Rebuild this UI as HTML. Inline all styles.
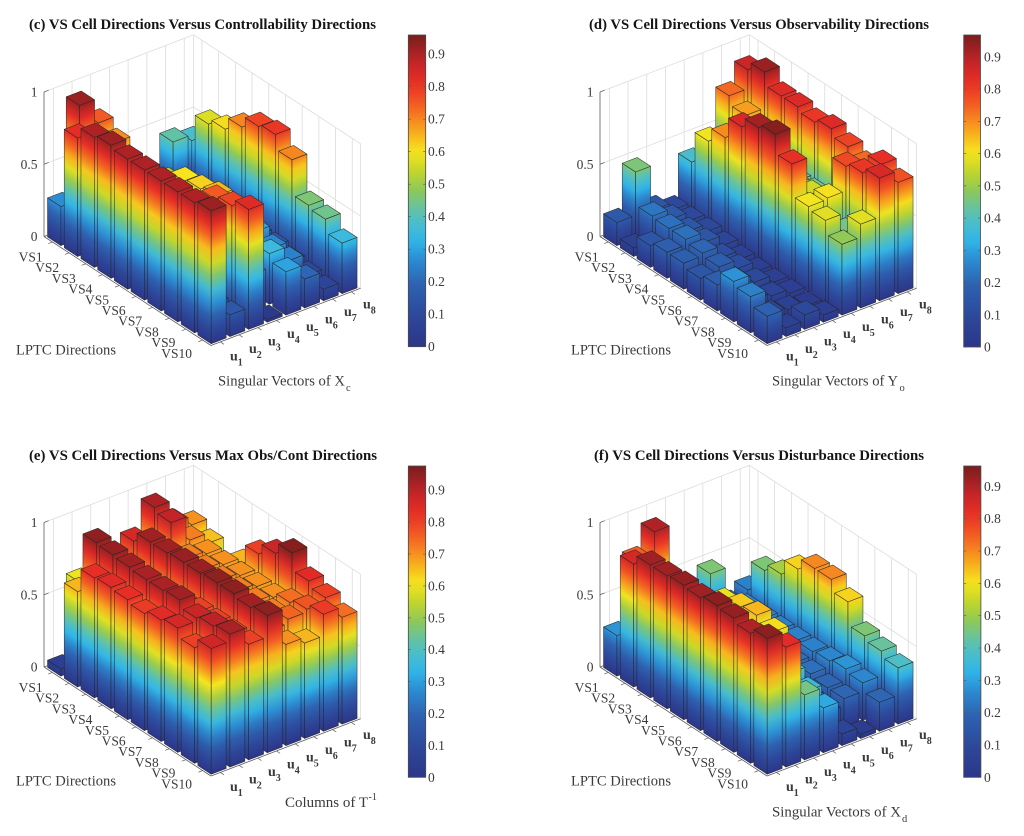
<!DOCTYPE html>
<html><head><meta charset="utf-8">
<style>
html,body{margin:0;padding:0;background:#fff;}
body{width:1024px;height:836px;overflow:hidden;}
svg{display:block;}
text{font-family:"Liberation Serif","Times New Roman",serif;}
.t{font-weight:bold;font-size:14.5px;fill:#151515;}
.al{font-size:14.5px;fill:#3a3a3a;}
.tk{font-size:13.5px;fill:#3a3a3a;}
.ul{font-size:14px;font-weight:bold;fill:#3a3a3a;}
</style></head>
<body>
<svg id="S" width="1024" height="836" viewBox="0 0 1024 836" xmlns="http://www.w3.org/2000/svg">
<defs id="D"></defs>
<rect x="0" y="0" width="1024" height="836" fill="#fff"/>
<g id="P0"></g><g id="P1"></g><g id="P2"></g><g id="P3"></g>

<!-- Titles -->
<text class="t" x="29" y="29" textLength="347" lengthAdjust="spacingAndGlyphs">(c) VS Cell Directions Versus Controllability Directions</text>
<text class="t" x="589" y="29" textLength="340" lengthAdjust="spacingAndGlyphs">(d) VS Cell Directions Versus Observability Directions</text>
<text class="t" x="29" y="460" textLength="348" lengthAdjust="spacingAndGlyphs">(e) VS Cell Directions Versus Max Obs/Cont Directions</text>
<text class="t" x="594" y="460" textLength="330" lengthAdjust="spacingAndGlyphs">(f) VS Cell Directions Versus Disturbance Directions</text>

<!-- Axis labels -->
<text class="al" x="16" y="354.5" textLength="100" lengthAdjust="spacingAndGlyphs">LPTC Directions</text>
<text class="al" x="571" y="354.5" textLength="100" lengthAdjust="spacingAndGlyphs">LPTC Directions</text>
<text class="al" x="16" y="785.5" textLength="100" lengthAdjust="spacingAndGlyphs">LPTC Directions</text>
<text class="al" x="571" y="785.5" textLength="100" lengthAdjust="spacingAndGlyphs">LPTC Directions</text>

<text class="al" x="218" y="385.5" textLength="127" lengthAdjust="spacingAndGlyphs">Singular Vectors of X</text>
<text class="al" x="346" y="391" style="font-size:10.5px">c</text>
<text class="al" x="772" y="385.5" textLength="126" lengthAdjust="spacingAndGlyphs">Singular Vectors of Y</text>
<text class="al" x="899.5" y="391" style="font-size:10.5px">o</text>
<text class="al" x="285" y="807" textLength="83" lengthAdjust="spacingAndGlyphs">Columns of T</text>
<text class="al" x="368.5" y="800" style="font-size:10px">-1</text>
<text class="al" x="772" y="816.5" textLength="129" lengthAdjust="spacingAndGlyphs">Singular Vectors of X</text>
<text class="al" x="902" y="822" style="font-size:10.5px">d</text>

<!-- Colorbar labels (c) -->
<g class="tk">
<text x="428" y="351.2">0</text><text x="428" y="318.7">0.1</text><text x="428" y="286.2">0.2</text><text x="428" y="253.7">0.3</text><text x="428" y="221.2">0.4</text><text x="428" y="188.7">0.5</text><text x="428" y="156.2">0.6</text><text x="428" y="123.7">0.7</text><text x="428" y="91.2">0.8</text><text x="428" y="58.7">0.9</text>
</g>
<!-- Colorbar labels (d) -->
<g class="tk">
<text x="984" y="351.5">0</text><text x="984" y="319.3">0.1</text><text x="984" y="287.0">0.2</text><text x="984" y="254.8">0.3</text><text x="984" y="222.6">0.4</text><text x="984" y="190.4">0.5</text><text x="984" y="158.1">0.6</text><text x="984" y="125.9">0.7</text><text x="984" y="93.7">0.8</text><text x="984" y="61.4">0.9</text>
</g>
<!-- Colorbar labels (e) -->
<g class="tk">
<text x="428" y="781.8">0</text><text x="428" y="749.9">0.1</text><text x="428" y="718.0">0.2</text><text x="428" y="686.1">0.3</text><text x="428" y="654.2">0.4</text><text x="428" y="622.3">0.5</text><text x="428" y="590.4">0.6</text><text x="428" y="558.5">0.7</text><text x="428" y="526.6">0.8</text><text x="428" y="494.7">0.9</text>
</g>
<!-- Colorbar labels (f) -->
<g class="tk">
<text x="984" y="781.8">0</text><text x="984" y="749.5">0.1</text><text x="984" y="717.1">0.2</text><text x="984" y="684.8">0.3</text><text x="984" y="652.5">0.4</text><text x="984" y="620.2">0.5</text><text x="984" y="587.8">0.6</text><text x="984" y="555.5">0.7</text><text x="984" y="523.2">0.8</text><text x="984" y="490.8">0.9</text>
</g>

<!-- Panel tick labels (c) -->
<g class="tk">
<text x="37.5" y="96.5" text-anchor="end">1</text><text x="37.5" y="168.8" text-anchor="end">0.5</text><text x="37.5" y="241" text-anchor="end">0</text>
<text x="42.6" y="261.5" text-anchor="end">VS1</text><text x="59.2" y="272.2" text-anchor="end">VS2</text><text x="75.8" y="282.9" text-anchor="end">VS3</text><text x="92.4" y="293.6" text-anchor="end">VS4</text><text x="109" y="304.3" text-anchor="end">VS5</text><text x="125.6" y="315" text-anchor="end">VS6</text><text x="142.2" y="325.7" text-anchor="end">VS7</text><text x="158.8" y="336.4" text-anchor="end">VS8</text><text x="175.4" y="347.1" text-anchor="end">VS9</text><text x="192" y="357.8" text-anchor="end">VS10</text>
</g>
<g>
<text class="ul" x="230" y="360.4">u<tspan font-size="10" dy="5">1</tspan></text>
<text class="ul" x="249" y="353">u<tspan font-size="10" dy="5">2</tspan></text>
<text class="ul" x="268" y="345.6">u<tspan font-size="10" dy="5">3</tspan></text>
<text class="ul" x="287" y="338.2">u<tspan font-size="10" dy="5">4</tspan></text>
<text class="ul" x="306" y="330.8">u<tspan font-size="10" dy="5">5</tspan></text>
<text class="ul" x="325" y="323.4">u<tspan font-size="10" dy="5">6</tspan></text>
<text class="ul" x="344" y="316">u<tspan font-size="10" dy="5">7</tspan></text>
<text class="ul" x="363" y="308.6">u<tspan font-size="10" dy="5">8</tspan></text>
</g>

<!-- Panel tick labels (d) -->
<g class="tk" transform="translate(556,0)">
<text x="37.5" y="96.5" text-anchor="end">1</text><text x="37.5" y="168.8" text-anchor="end">0.5</text><text x="37.5" y="241" text-anchor="end">0</text>
<text x="42.6" y="261.5" text-anchor="end">VS1</text><text x="59.2" y="272.2" text-anchor="end">VS2</text><text x="75.8" y="282.9" text-anchor="end">VS3</text><text x="92.4" y="293.6" text-anchor="end">VS4</text><text x="109" y="304.3" text-anchor="end">VS5</text><text x="125.6" y="315" text-anchor="end">VS6</text><text x="142.2" y="325.7" text-anchor="end">VS7</text><text x="158.8" y="336.4" text-anchor="end">VS8</text><text x="175.4" y="347.1" text-anchor="end">VS9</text><text x="192" y="357.8" text-anchor="end">VS10</text>
</g>
<g transform="translate(556,0)">
<text class="ul" x="230" y="360.4">u<tspan font-size="10" dy="5">1</tspan></text>
<text class="ul" x="249" y="353">u<tspan font-size="10" dy="5">2</tspan></text>
<text class="ul" x="268" y="345.6">u<tspan font-size="10" dy="5">3</tspan></text>
<text class="ul" x="287" y="338.2">u<tspan font-size="10" dy="5">4</tspan></text>
<text class="ul" x="306" y="330.8">u<tspan font-size="10" dy="5">5</tspan></text>
<text class="ul" x="325" y="323.4">u<tspan font-size="10" dy="5">6</tspan></text>
<text class="ul" x="344" y="316">u<tspan font-size="10" dy="5">7</tspan></text>
<text class="ul" x="363" y="308.6">u<tspan font-size="10" dy="5">8</tspan></text>
</g>

<!-- Panel tick labels (e) -->
<g class="tk" transform="translate(0,430.5)">
<text x="37.5" y="96.5" text-anchor="end">1</text><text x="37.5" y="168.8" text-anchor="end">0.5</text><text x="37.5" y="241" text-anchor="end">0</text>
<text x="42.6" y="261.5" text-anchor="end">VS1</text><text x="59.2" y="272.2" text-anchor="end">VS2</text><text x="75.8" y="282.9" text-anchor="end">VS3</text><text x="92.4" y="293.6" text-anchor="end">VS4</text><text x="109" y="304.3" text-anchor="end">VS5</text><text x="125.6" y="315" text-anchor="end">VS6</text><text x="142.2" y="325.7" text-anchor="end">VS7</text><text x="158.8" y="336.4" text-anchor="end">VS8</text><text x="175.4" y="347.1" text-anchor="end">VS9</text><text x="192" y="357.8" text-anchor="end">VS10</text>
</g>
<g transform="translate(0,430.5)">
<text class="ul" x="230" y="360.4">u<tspan font-size="10" dy="5">1</tspan></text>
<text class="ul" x="249" y="353">u<tspan font-size="10" dy="5">2</tspan></text>
<text class="ul" x="268" y="345.6">u<tspan font-size="10" dy="5">3</tspan></text>
<text class="ul" x="287" y="338.2">u<tspan font-size="10" dy="5">4</tspan></text>
<text class="ul" x="306" y="330.8">u<tspan font-size="10" dy="5">5</tspan></text>
<text class="ul" x="325" y="323.4">u<tspan font-size="10" dy="5">6</tspan></text>
<text class="ul" x="344" y="316">u<tspan font-size="10" dy="5">7</tspan></text>
<text class="ul" x="363" y="308.6">u<tspan font-size="10" dy="5">8</tspan></text>
</g>

<!-- Panel tick labels (f) -->
<g class="tk" transform="translate(556,430.5)">
<text x="37.5" y="96.5" text-anchor="end">1</text><text x="37.5" y="168.8" text-anchor="end">0.5</text><text x="37.5" y="241" text-anchor="end">0</text>
<text x="42.6" y="261.5" text-anchor="end">VS1</text><text x="59.2" y="272.2" text-anchor="end">VS2</text><text x="75.8" y="282.9" text-anchor="end">VS3</text><text x="92.4" y="293.6" text-anchor="end">VS4</text><text x="109" y="304.3" text-anchor="end">VS5</text><text x="125.6" y="315" text-anchor="end">VS6</text><text x="142.2" y="325.7" text-anchor="end">VS7</text><text x="158.8" y="336.4" text-anchor="end">VS8</text><text x="175.4" y="347.1" text-anchor="end">VS9</text><text x="192" y="357.8" text-anchor="end">VS10</text>
</g>
<g transform="translate(556,430.5)">
<text class="ul" x="230" y="360.4">u<tspan font-size="10" dy="5">1</tspan></text>
<text class="ul" x="249" y="353">u<tspan font-size="10" dy="5">2</tspan></text>
<text class="ul" x="268" y="345.6">u<tspan font-size="10" dy="5">3</tspan></text>
<text class="ul" x="287" y="338.2">u<tspan font-size="10" dy="5">4</tspan></text>
<text class="ul" x="306" y="330.8">u<tspan font-size="10" dy="5">5</tspan></text>
<text class="ul" x="325" y="323.4">u<tspan font-size="10" dy="5">6</tspan></text>
<text class="ul" x="344" y="316">u<tspan font-size="10" dy="5">7</tspan></text>
<text class="ul" x="363" y="308.6">u<tspan font-size="10" dy="5">8</tspan></text>
</g>
</svg>
<script>
(function(){
var NS="http://www.w3.org/2000/svg";
var D=document.getElementById('D');
var CM=[[0,44,54,136],[0.1,45,72,155],[0.2,46,98,177],[0.28,44,140,210],[0.34,48,182,233],[0.42,85,192,190],[0.5,140,200,90],[0.57,200,215,40],[0.625,246,230,30],[0.7,247,160,30],[0.78,242,90,35],[0.85,232,45,38],[0.92,190,35,40],[1,120,30,28]];
function cm(t){
  if(t<0)t=0; if(t>1)t=1;
  for(var k=1;k<CM.length;k++){
    if(t<=CM[k][0]){
      var a=CM[k-1],b=CM[k],f=(t-a[0])/(b[0]-a[0]);
      return 'rgb('+Math.round(a[1]+f*(b[1]-a[1]))+','+Math.round(a[2]+f*(b[2]-a[2]))+','+Math.round(a[3]+f*(b[3]-a[3]))+')';
    }
  }
  return 'rgb(120,30,28)';
}
function mk(tag,at,par){var e=document.createElementNS(NS,tag);for(var k in at)e.setAttribute(k,at[k]);if(par)par.appendChild(e);return e;}
var U=[18.7,-7.15],V=[16.7,10.9],Z=144.5,W=0.4;
var NL=[0.5466,-0.8375],NR=[-0.357,-0.934];
var panels=[
 {ox:44,oy:236.5,cmax:0.959,cb:[408.3,35,17.4,346.7],data:[
  [0.27,0.92,0.75,0.10,0.08,0.06,0.42,0.38],
  [0.82,0.15,0.69,0.35,0.20,0.18,0.15,0.57],
  [0.90,0.15,0.50,0.45,0.25,0.22,0.15,0.61],
  [0.92,0.15,0.50,0.52,0.25,0.25,0.15,0.70],
  [0.90,0.15,0.50,0.60,0.25,0.25,0.15,0.78],
  [0.90,0.15,0.52,0.62,0.25,0.25,0.15,0.80],
  [0.90,0.15,0.55,0.65,0.30,0.30,0.15,0.70],
  [0.90,0.15,0.75,0.55,0.30,0.26,0.12,0.46],
  [0.90,0.15,0.78,0.25,0.35,0.25,0.10,0.44],
  [0.92,0.15,0.83,0.02,0.30,0.20,0.08,0.35]]},
 {ox:600,oy:236.5,cmax:0.968,cb:[963.7,35,16.8,347],data:[
  [0.16,0.46,0.15,0.10,0.38,0.30,0.74,0.87],
  [0.06,0.23,0.16,0.10,0.60,0.50,0.68,0.93],
  [0.15,0.22,0.15,0.10,0.70,0.55,0.45,0.84],
  [0.18,0.22,0.15,0.08,0.85,0.60,0.45,0.84],
  [0.18,0.20,0.12,0.06,0.92,0.60,0.45,0.81],
  [0.15,0.18,0.12,0.05,0.95,0.55,0.45,0.84],
  [0.18,0.15,0.10,0.05,0.82,0.56,0.45,0.79],
  [0.28,0.10,0.08,0.05,0.60,0.61,0.78,0.74],
  [0.25,0.08,0.06,0.04,0.58,0.45,0.81,0.82],
  [0.19,0.06,0.10,0.05,0.49,0.58,0.85,0.77]]},
 {ox:44,oy:667,cmax:0.976,cb:[408.3,466,17.4,777.3],data:[
  [0.05,0.60,0.60,0.60,0.70,0.92,0.76,0.70],
  [0.66,0.95,0.75,0.86,0.72,0.89,0.72,0.65],
  [0.83,0.94,0.75,0.93,0.72,0.72,0.70,0.45],
  [0.84,0.93,0.75,0.93,0.72,0.72,0.70,0.66],
  [0.83,0.92,0.78,0.94,0.72,0.72,0.70,0.80],
  [0.81,0.92,0.78,0.94,0.72,0.72,0.70,0.88],
  [0.84,0.93,0.80,0.95,0.72,0.72,0.70,0.96],
  [0.86,0.88,0.80,0.95,0.72,0.72,0.74,0.84],
  [0.80,0.90,0.80,0.93,0.72,0.75,0.77,0.80],
  [0.87,0.92,0.80,0.95,0.70,0.66,0.81,0.74]]},
 {ox:600,oy:667,cmax:0.963,cb:[963.7,466,17.2,777.3],data:[
  [0.28,0.75,0.90,0.20,0.20,0.46,0.20,0.25],
  [0.85,0.20,0.45,0.30,0.20,0.30,0.25,0.46],
  [0.92,0.20,0.45,0.50,0.20,0.28,0.25,0.51],
  [0.92,0.20,0.45,0.59,0.22,0.25,0.25,0.62],
  [0.93,0.20,0.45,0.63,0.22,0.25,0.25,0.70],
  [0.92,0.20,0.40,0.65,0.20,0.22,0.25,0.70],
  [0.94,0.20,0.35,0.61,0.20,0.22,0.26,0.62],
  [0.93,0.20,0.30,0.40,0.18,0.20,0.28,0.46],
  [0.90,0.25,0.40,0.35,0.15,0.20,0.26,0.43],
  [0.94,0.83,0.45,0.31,0.08,0.03,0.20,0.39]]}
];
var gid=0;
function grad(x1,y1,x2,y2,h,cmax){
  var id='g'+(gid++);
  var g=mk('linearGradient',{id:id,gradientUnits:'userSpaceOnUse',x1:x1.toFixed(2),y1:y1.toFixed(2),x2:x2.toFixed(2),y2:(y2-0.001).toFixed(3)},D);
  var n=10;
  for(var k=0;k<=n;k++){mk('stop',{offset:(k/n).toFixed(2),'stop-color':cm(h*k/n/cmax)},g);}
  return 'url(#'+id+')';
}
panels.forEach(function(p,pi){
  var G=document.getElementById('P'+pi);
  function P(u,v,z){return [p.ox+(v-0.5)*V[0]+(u-0.5)*U[0], p.oy+(v-0.5)*V[1]+(u-0.5)*U[1]-z*Z];}
  function pts(a){return a.map(function(q){return q[0].toFixed(2)+','+q[1].toFixed(2);}).join(' ');}
  function line(a,b,st,w){return mk('line',{x1:a[0].toFixed(2),y1:a[1].toFixed(2),x2:b[0].toFixed(2),y2:b[1].toFixed(2),stroke:st,'stroke-width':w},G);}
  var gc='#dcdcdc';
  var zs=[0,0.5,1],u,v,k;
  for(k=0;k<3;k++){line(P(0.5,0.5,zs[k]),P(8.5,0.5,zs[k]),gc,0.8);line(P(8.5,0.5,zs[k]),P(8.5,10.5,zs[k]),gc,0.8);}
  for(u=1;u<=8;u++) line(P(u,0.5,0),P(u,0.5,1),gc,0.8);
  line(P(8.5,0.5,0),P(8.5,0.5,1),gc,0.8);
  for(v=1;v<=10;v++) line(P(8.5,v,0),P(8.5,v,1),gc,0.8);
  line(P(8.5,10.5,0),P(8.5,10.5,1),gc,0.8);
  var list=[];
  for(var j=1;j<=10;j++)for(var i=1;i<=8;i++)list.push([i,j]);
  list.sort(function(a,b){return ((a[1]-a[0])-(b[1]-b[0]))||(a[0]-b[0]);});
  var es='rgba(38,38,38,0.85)';
  list.forEach(function(ij){
    var i=ij[0],j=ij[1],h=p.data[j-1][i-1];
    var a0=P(i-W,j-W,0),b0=P(i-W,j+W,0),c0=P(i+W,j+W,0);
    var a1=P(i-W,j-W,h),b1=P(i-W,j+W,h),c1=P(i+W,j+W,h),d1=P(i+W,j-W,h);
    var dL=h*Z*(-NL[1]);
    mk('polygon',{points:pts([a0,b0,b1,a1]),fill:grad(a0[0],a0[1],a0[0]+dL*NL[0],a0[1]+dL*NL[1],h,p.cmax),stroke:es,'stroke-width':0.6,'stroke-linejoin':'round'},G);
    var dR=h*Z*(-NR[1]);
    mk('polygon',{points:pts([b0,c0,c1,b1]),fill:grad(b0[0],b0[1],b0[0]+dR*NR[0],b0[1]+dR*NR[1],h,p.cmax),stroke:es,'stroke-width':0.6,'stroke-linejoin':'round'},G);
    mk('polygon',{points:pts([a1,b1,c1,d1]),fill:cm(h/p.cmax),stroke:es,'stroke-width':0.6,'stroke-linejoin':'round'},G);
  });
  var ac='#5c5c5c';
  line(P(0.5,0.5,0),P(0.5,0.5,1),ac,0.8);
  line(P(0.5,0.5,0),P(0.5,10.5,0),ac,0.8);
  line(P(0.5,10.5,0),P(8.5,10.5,0),ac,0.8);
  for(k=0;k<3;k++) line(P(0.5,0.5,zs[k]),P(0.75,0.5,zs[k]),ac,0.7);
  for(v=1;v<=10;v++) line(P(0.5,v,0),P(0.28,v,0),ac,0.7);
  for(u=1;u<=8;u++) line(P(u,10.5,0),P(u,10.72,0),ac,0.7);
  var cb=p.cb;
  var cg=mk('linearGradient',{id:'cbg'+pi,x1:0,y1:1,x2:0,y2:0},D);
  for(k=0;k<=30;k++) mk('stop',{offset:(k/30).toFixed(3),'stop-color':cm(k/30)},cg);
  mk('rect',{x:cb[0],y:cb[1],width:cb[2],height:(cb[3]-cb[1]).toFixed(2),fill:'url(#cbg'+pi+')',stroke:'#4a4a4a','stroke-width':0.8},G);
  for(k=0;k<=9;k++){
    var yy=cb[3]-(k*0.1)/p.cmax*(cb[3]-cb[1]);
    line([cb[0]+cb[2]-2.5,yy],[cb[0]+cb[2],yy],'#555',0.6);
    line([cb[0],yy],[cb[0]+2.5,yy],'#555',0.6);
  }
});
})();
</script>
</body></html>
